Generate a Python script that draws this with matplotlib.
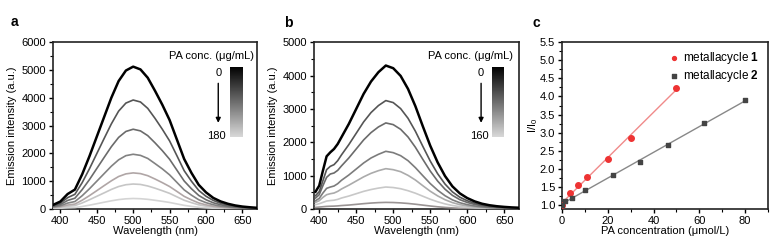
import numpy as np
import matplotlib
matplotlib.use('Agg')
import matplotlib.pyplot as plt
from matplotlib.colors import LinearSegmentedColormap
from matplotlib.ticker import MultipleLocator, FormatStrFormatter

plt.rcParams['font.family'] = ['Liberation Sans', 'DejaVu Sans']
plt.rcParams['font.size'] = 8
plt.rcParams['mathtext.fontset'] = 'custom'
plt.rcParams['mathtext.bf'] = 'Liberation Sans:bold'
plt.rcParams['mathtext.rm'] = 'Liberation Sans'

# panel a spectra (0 -> 180 ug/mL)
wl_a = [390, 400, 410, 420, 430, 440, 450, 460, 470, 480, 490, 500, 510, 520, 530,
        540, 550, 560, 570, 580, 590, 600, 610, 620, 630, 640, 650, 660, 670]
a1 = [150, 270, 540, 700, 1250, 1900, 2600, 3300, 4000, 4600, 4980, 5120, 5020, 4720, 4250,
      3750, 3200, 2500, 1800, 1300, 870, 600, 400, 275, 190, 130, 90, 65, 45]
a2 = [115, 210, 410, 530, 950, 1450, 1990, 2530, 3060, 3520, 3810, 3920, 3850, 3620, 3260,
      2870, 2450, 1920, 1380, 1000, 670, 460, 310, 210, 145, 100, 70, 50, 35]
a3 = [95, 160, 310, 390, 700, 1060, 1455, 1850, 2240, 2575, 2790, 2870, 2810, 2640, 2380,
      2100, 1790, 1400, 1010, 730, 490, 335, 225, 155, 105, 75, 50, 36, 25]
a4 = [80, 115, 215, 270, 480, 730, 1000, 1270, 1540, 1770, 1920, 1970, 1930, 1820, 1635,
      1445, 1230, 960, 690, 500, 335, 230, 155, 105, 75, 50, 35, 25, 18]
a5 = [60, 85, 145, 180, 318, 483, 660, 840, 1015, 1170, 1265, 1300, 1275, 1200, 1080,
      950, 810, 635, 457, 330, 220, 152, 100, 70, 50, 35, 25, 18, 12]
a6 = [45, 60, 100, 125, 220, 335, 458, 580, 705, 810, 875, 900, 885, 830, 750,
      660, 565, 440, 317, 230, 153, 105, 70, 50, 35, 25, 17, 12, 8]
a7 = [25, 30, 45, 55, 93, 140, 192, 245, 296, 340, 368, 380, 372, 350, 315,
      278, 237, 185, 133, 96, 64, 44, 30, 22, 15, 11, 8, 6, 4]

# panel b spectra (0 -> 160 ug/mL)
wl_b = [395, 400, 405, 410, 415, 420, 425, 430, 440, 450, 460, 470, 480, 490, 500, 510,
        520, 530, 540, 550, 560, 570, 580, 590, 600, 610, 620, 630, 640, 650, 660, 670]
b1 = [520, 700, 1150, 1580, 1700, 1800, 1950, 2150, 2550, 3000, 3450, 3820, 4100, 4300, 4220, 3990,
      3600, 3080, 2480, 1900, 1400, 990, 680, 470, 330, 230, 160, 115, 85, 65, 50, 40]
b2 = [400, 520, 850, 1180, 1280, 1330, 1450, 1620, 1930, 2270, 2610, 2890, 3100, 3250, 3190, 3010,
      2720, 2330, 1880, 1440, 1060, 750, 515, 355, 250, 175, 120, 87, 64, 49, 38, 30]
b3 = [330, 430, 700, 950, 1050, 1080, 1160, 1290, 1530, 1800, 2070, 2290, 2460, 2580, 2530, 2390,
      2160, 1850, 1490, 1140, 840, 595, 410, 282, 198, 138, 96, 69, 51, 39, 30, 24]
b4 = [250, 320, 480, 620, 660, 690, 760, 860, 1020, 1200, 1380, 1530, 1640, 1730, 1690, 1600,
      1450, 1240, 1000, 765, 565, 400, 275, 190, 133, 93, 65, 47, 35, 27, 21, 16]
b5 = [200, 250, 350, 430, 460, 480, 530, 600, 715, 840, 965, 1070, 1150, 1210, 1180, 1120,
      1010, 870, 700, 535, 395, 280, 193, 133, 93, 65, 46, 33, 25, 19, 15, 12]
b6 = [130, 160, 200, 240, 255, 265, 290, 330, 390, 460, 530, 585, 628, 660, 645, 610,
      550, 475, 385, 295, 218, 155, 107, 74, 52, 37, 26, 19, 14, 11, 9, 7]
b7 = [50, 60, 70, 80, 85, 88, 95, 105, 120, 141, 162, 180, 193, 200, 196, 185,
      168, 145, 118, 92, 68, 50, 35, 25, 18, 13, 10, 8, 6, 5, 4, 3]

# panel c
conc_1 = [0, 3.5, 7, 11, 20, 30, 50]
ratio_1 = [1.0, 1.33, 1.55, 1.78, 2.28, 2.84, 4.24]
conc_2 = [0, 1.2, 4.2, 10.2, 22.2, 34.2, 46.2, 62, 80]
ratio_2 = [1.0, 1.1, 1.2, 1.43, 1.83, 2.2, 2.65, 3.26, 3.89]

colors_a = ['#000000', '#555555', '#6b6b6b', '#828282', '#b0a6a6', '#c6c6c6', '#d4d4d4']
colors_b = ['#000000', '#555555', '#6b6b6b', '#7c7c7c', '#ababab', '#c8c8c8', '#9a9494']

gray_cmap = LinearSegmentedColormap.from_list('pa', ['#000000', '#d8d8d8'])


def style_axes(ax):
    for s in ax.spines.values():
        s.set_linewidth(1.2)
        s.set_color('#222222')
    ax.tick_params(which='major', direction='out', length=3, width=1, pad=2)
    ax.tick_params(which='minor', direction='out', length=2, width=0.8)


def conc_bar(ax, x0, w, xt, top_label, bottom_label, text_x):
    ax.text(text_x, 0.92, 'PA conc. (\u03bcg/mL)', transform=ax.transAxes,
            ha='right', va='center')
    cax = ax.inset_axes([x0, 0.43, w, 0.42])
    cax.imshow(np.linspace(0, 1, 100)[:, None], aspect='auto', cmap=gray_cmap)
    cax.set_xticks([])
    cax.set_yticks([])
    for s in cax.spines.values():
        s.set_visible(False)
    ax.text(xt, 0.815, top_label, transform=ax.transAxes, ha='center', va='center')
    ax.text(xt - 0.01, 0.435, bottom_label, transform=ax.transAxes, ha='center', va='center')
    ax.annotate('', xy=(xt, 0.50), xytext=(xt, 0.77), xycoords='axes fraction',
                arrowprops=dict(arrowstyle='-|>', color='black', lw=1, mutation_scale=7))


fig = plt.figure(figsize=(7.8, 2.48), dpi=100)
ax1 = fig.add_axes([0.068, 0.157, 0.2615, 0.673])
ax2 = fig.add_axes([0.4026, 0.157, 0.2628, 0.673])
ax3 = fig.add_axes([0.7205, 0.157, 0.264, 0.673])

series_a = [a1, a2, a3, a4, a5, a6, a7]
for i, ys in enumerate(series_a):
    ax1.plot(wl_a, ys, color=colors_a[i], lw=1.8 if i == 0 else 1.2, zorder=10 - i)
ax1.set_xlim(390, 670)
ax1.set_ylim(0, 6000)
ax1.xaxis.set_major_locator(MultipleLocator(50))
ax1.xaxis.set_minor_locator(MultipleLocator(25))
ax1.yaxis.set_major_locator(MultipleLocator(1000))
ax1.yaxis.set_minor_locator(MultipleLocator(500))
ax1.set_xlabel('Wavelength (nm)', labelpad=0)
ax1.set_ylabel('Emission intensity (a.u.)', labelpad=3)
style_axes(ax1)
conc_bar(ax1, 0.868, 0.062, 0.81, '0', '180', 0.985)

series_b = [b1, b2, b3, b4, b5, b6, b7]
for i, ys in enumerate(series_b):
    ax2.plot(wl_b, ys, color=colors_b[i], lw=1.8 if i == 0 else 1.2, zorder=10 - i)
ax2.set_xlim(393, 670)
ax2.set_ylim(0, 5000)
ax2.xaxis.set_major_locator(MultipleLocator(50))
ax2.xaxis.set_minor_locator(MultipleLocator(25))
ax2.yaxis.set_major_locator(MultipleLocator(1000))
ax2.yaxis.set_minor_locator(MultipleLocator(500))
ax2.set_xlabel('Wavelength (nm)', labelpad=0)
ax2.set_ylabel('Emission intensity (a.u.)', labelpad=3)
style_axes(ax2)
conc_bar(ax2, 0.87, 0.055, 0.815, '0', '160', 0.97)

# fit lines
k1, c1 = np.polyfit(conc_1, ratio_1, 1)
k2, c2 = np.polyfit(conc_2, ratio_2, 1)
xf1 = np.array([conc_1[0], conc_1[-1]])
xf2 = np.array([conc_2[0], conc_2[-1]])
ax3.plot(xf1, k1 * xf1 + c1, color='#f08a8a', lw=1)
ax3.plot(xf2, k2 * xf2 + c2, color='#888888', lw=1)
ax3.scatter(conc_1, ratio_1, s=16, color='#ee3333', marker='o', zorder=5,
            label='metallacycle $\\mathbf{1}$')
ax3.scatter(conc_2, ratio_2, s=12, color='#444444', marker='s', zorder=5,
            label='metallacycle $\\mathbf{2}$')
ax3.set_xlim(0, 90)
ax3.set_ylim(0.89, 5.5)
ax3.xaxis.set_major_locator(MultipleLocator(20))
ax3.xaxis.set_minor_locator(MultipleLocator(10))
ax3.yaxis.set_major_locator(MultipleLocator(0.5))
ax3.yaxis.set_minor_locator(MultipleLocator(0.25))
ax3.yaxis.set_major_formatter(FormatStrFormatter('%.1f'))
ax3.set_xlabel('PA concentration (\u03bcmol/L)', labelpad=0)
ax3.set_ylabel('I/I$_0$', labelpad=0)
style_axes(ax3)
ax3.legend(loc='upper right', frameon=False, handlelength=0.6, handletextpad=0.5,
           borderaxespad=0.3, labelspacing=0.1, fontsize=8.5, markerscale=0.7)

fig.text(0.018, 0.91, 'a', fontsize=10, fontweight='bold', va='center', ha='center')
fig.text(0.369, 0.907, 'b', fontsize=10, fontweight='bold', va='center', ha='center')
fig.text(0.687, 0.907, 'c', fontsize=10, fontweight='bold', va='center', ha='center')

fig.savefig('out.png', dpi=100)
